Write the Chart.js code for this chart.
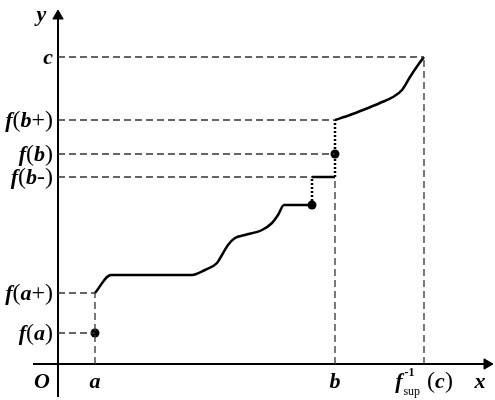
<!DOCTYPE html>
<html>
<head>
<meta charset="utf-8">
<script src="https://cdn.jsdelivr.net/npm/chart.js@4"></script>
<style>
  html, body { margin: 0; padding: 0; background: #fff; }
  #wrap { width: 495px; height: 400px; position: relative; }
</style>
</head>
<body>
<div id="wrap"><canvas id="plot"></canvas></div>
<script>
/* ---------- valeurs ---------- */
// repères sur les axes
const xMarks      = [3.7, 27.7, 36.6];
const xMarkLabels = ['a', 'b', 'fsup'];
const yMarks      = [3.1, 7.1, 18.7, 21.0, 24.4, 30.7];
const yMarkLabels = ['f(a)', 'f(a+)', 'f(b-)', 'f(b)', 'f(b+)', 'c'];
// fin de chaque tirets horizontal (abscisse)
const yGuideEnds  = [3.7, 3.7, 25.4, 27.7, 27.7, 36.6];
// haut de chaque tirets vertical (ordonnée)
const xGuideTops  = [7.1, 18.7, 30.7];

// morceaux de la courbe
const lowX  = [3.7, 5.3, 13.4, 14.7, 15.9, 16.4, 17.0, 17.7, 18.7, 20.4, 21.4, 22.0, 22.6, 25.4];
const lowY  = [7.1, 8.9, 8.9, 9.4, 10.1, 10.9, 11.9, 12.6, 12.9, 13.4, 14.1, 14.9, 15.9, 15.9];
const stepX = [25.4, 27.7];
const stepY = [18.7, 18.7];
const upX   = [27.7, 29.2, 30.5, 32.2, 33.5, 34.4, 35.2, 36.0, 36.6];
const upY   = [24.4, 24.9, 25.4, 26.1, 26.7, 27.4, 28.7, 29.9, 30.7];

// sauts en pointillé
const jumpX  = [25.4, 27.7];
const jumpLo = [15.9, 18.7];
const jumpHi = [18.7, 24.4];

// points isolés
const dotX = [3.7, 25.4, 27.7];
const dotY = [3.1, 15.9, 21.0];

// étendue des axes
const axisX = [-2.5, 42.9];
const axisY = [-3.3, 34.8];

/* ---------- jeux de données ---------- */
const pts = (xs, ys) => xs.map((x, i) => ({x: x, y: ys[i]}));
const base = {pointRadius: 0, fill: false, tension: 0};
const DASH = '#333';

const datasets = [];

// tirets horizontaux
yMarks.forEach((y, i) => datasets.push({...base, data: pts([0, yGuideEnds[i]], [y, y]),
  borderColor: DASH, borderWidth: 1.3, borderDash: [7, 4]}));
// tirets verticaux
xMarks.forEach((x, i) => datasets.push({...base, data: pts([x, x], [0, xGuideTops[i]]),
  borderColor: DASH, borderWidth: 1.3, borderDash: [7, 4]}));
// pointillés des sauts
jumpX.forEach((x, i) => datasets.push({...base, data: pts([x, x], [jumpLo[i], jumpHi[i]]),
  borderColor: '#000', borderWidth: 2.5, borderDash: [2, 2]}));

// axes avec flèche
datasets.push({...base, data: pts(axisX, [0, 0]), borderColor: '#000', borderWidth: 2,
  pointRadius: [0, 6], pointStyle: 'triangle', pointRotation: 90,
  pointBackgroundColor: '#000', pointBorderColor: '#000', pointBorderWidth: 1});
datasets.push({...base, data: pts([0, 0], axisY), borderColor: '#000', borderWidth: 2,
  pointRadius: [0, 6], pointStyle: 'triangle', pointRotation: 0,
  pointBackgroundColor: '#000', pointBorderColor: '#000', pointBorderWidth: 1});

// courbe
datasets.push({...base, data: pts(lowX, lowY), borderColor: '#000', borderWidth: 2.5,
  cubicInterpolationMode: 'monotone'});
datasets.push({...base, data: pts(stepX, stepY), borderColor: '#000', borderWidth: 2.5});
datasets.push({...base, data: pts(upX, upY), borderColor: '#000', borderWidth: 2.5,
  cubicInterpolationMode: 'monotone'});

// points
datasets.push({data: pts(dotX, dotY), showLine: false, pointRadius: 4.5,
  pointBackgroundColor: '#000', pointBorderColor: '#000', borderWidth: 0});

/* ---------- étiquettes ---------- */
const SERIF = '"Liberation Serif", "DejaVu Serif", serif';
const fnt = (it, bold, size) => (it ? 'italic ' : '') + (bold ? 'bold ' : '') + size + 'px ' + SERIF;

// lettres en gras italique, parenthèses et signes droits et maigres
function segsOf(s) {
  return s.split('').map(ch => {
    const letter = /[A-Za-z]/.test(ch);
    return {t: ch, it: letter, bold: letter, size: letter ? 22 : 24};
  });
}
function drawSegs(ctx, segs, x, y, align) {
  let w = 0;
  segs.forEach(s => { ctx.font = fnt(s.it, s.bold, s.size); s.w = ctx.measureText(s.t).width; w += s.w; });
  let px = align === 'right' ? x - w : align === 'center' ? x - w / 2 : x;
  segs.forEach(s => { ctx.font = fnt(s.it, s.bold, s.size); ctx.fillText(s.t, px, y); px += s.w; });
}
function drawFsup(ctx, cx, y) {
  // f^{-1}_{sup}(c)
  ctx.font = fnt(true, true, 22);
  const wf = ctx.measureText('f').width;
  ctx.font = fnt(false, false, 12);
  const wSup = ctx.measureText('-1').width, wSub = ctx.measureText('sup').width;
  const wMid = Math.max(wSup, wSub) + 2;
  const tail = segsOf(' (c)');
  let wt = 0;
  tail.forEach(s => { ctx.font = fnt(s.it, s.bold, s.size); s.w = ctx.measureText(s.t).width; wt += s.w; });
  let px = cx - (wf + wMid + wt) / 2;
  ctx.font = fnt(true, true, 22); ctx.fillText('f', px, y); px += wf + 1;
  ctx.font = fnt(false, true, 12); ctx.fillText('-1', px + 1, y - 12);
  ctx.font = fnt(false, false, 12); ctx.fillText('sup', px, y + 7);
  px += wMid - 1;
  drawSegs(ctx, tail, px, y, 'left');
}

const labelPlugin = {
  id: 'labels',
  afterDatasetsDraw(chart) {
    const ctx = chart.ctx, xs = chart.scales.x, ys = chart.scales.y;
    ctx.save();
    ctx.fillStyle = '#000';
    ctx.textBaseline = 'alphabetic';
    const y0 = ys.getPixelForValue(0);
    const xLeft = xs.getPixelForValue(-0.5);
    yMarks.forEach((v, i) => drawSegs(ctx, segsOf(yMarkLabels[i]), xLeft, ys.getPixelForValue(v) + 7, 'right'));
    const base = y0 + 24;
    xMarks.forEach((v, i) => {
      const px = xs.getPixelForValue(v);
      if (xMarkLabels[i] === 'fsup') drawFsup(ctx, px, base);
      else drawSegs(ctx, segsOf(xMarkLabels[i]), px, base, 'center');
    });
    drawSegs(ctx, segsOf('O'), xs.getPixelForValue(-1.6), base, 'center');
    drawSegs(ctx, segsOf('x'), xs.getPixelForValue(42.2), base, 'center');
    drawSegs(ctx, segsOf('y'), xs.getPixelForValue(-1.65), ys.getPixelForValue(34.3), 'center');
    ctx.restore();
  }
};

new Chart(document.getElementById('plot'), {
  type: 'line',
  data: {datasets: datasets},
  options: {
    responsive: true,
    maintainAspectRatio: false,
    animation: false,
    events: [],
    layout: {padding: 0, autoPadding: false},
    plugins: {legend: {display: false}, tooltip: {enabled: false}},
    scales: {
      x: {type: 'linear', display: false, min: -5.8, max: 43.7},
      y: {type: 'linear', display: false, min: -3.6, max: 36.4}
    }
  },
  plugins: [labelPlugin]
});
</script>
</body>
</html>
